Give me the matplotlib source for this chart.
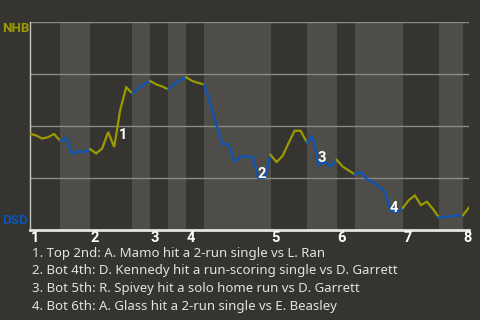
import matplotlib
matplotlib.use("Agg")  # 无头环境
import matplotlib.pyplot as plt
from matplotlib import transforms

# NHB win probability after each plate appearance (index 0 = first pitch)
wp = [
    0.463, 0.455, 0.440, 0.446, 0.462, 0.428,                # top 1
    0.442, 0.368, 0.377, 0.375, 0.389,                       # bot 1
    0.368, 0.392, 0.471, 0.399, 0.577, 0.686, 0.657,         # top 2
    0.680, 0.702, 0.716,                                     # bot 2
    0.700, 0.690, 0.676,                                     # top 3
    0.702, 0.721, 0.734,                                     # bot 3
    0.716, 0.707, 0.699,                                     # top 4
    0.601, 0.505, 0.413, 0.413, 0.327, 0.353, 0.353, 0.353,  # bot 4
    0.249, 0.249, 0.361,
    0.327, 0.356, 0.418, 0.477, 0.477, 0.423,                # top 5
    0.450, 0.313, 0.329, 0.305, 0.337,                       # bot 5
    0.305, 0.286, 0.267,                                     # top 6
    0.279, 0.244, 0.232, 0.208, 0.185, 0.091, 0.087, 0.106,  # bot 6
    0.144, 0.166, 0.120, 0.136, 0.101, 0.061,                # top 7
    0.063, 0.067, 0.069, 0.071,                              # bot 7
    0.108,                                                   # top 8
]
top_starts = [0, 10, 20, 26, 40, 51, 62, 72]
bot_starts = [5, 17, 23, 29, 46, 54, 68]
inning_labels = ["1", "2", "3", "4", "5", "6", "7", "8"]
away_team = "NHB"
home_team = "DSD"

# 关键事件：事件结束时的打席序号 + 说明
event_idx = [15, 38, 48, 60]
event_notes = [
    "Top 2nd: A. Mamo hit a 2-run single vs L. Ran",
    "Bot 4th: D. Kennedy hit a run-scoring single vs D. Garrett",
    "Bot 5th: R. Spivey hit a solo home run vs D. Garrett",
    "Bot 6th: A. Glass hit a 2-run single vs E. Beasley",
]

BG = "#363430"
BAND = "#4f4d4a"
AWAY_C = "#9c9a00"
HOME_C = "#0a55b5"
FONT = ["Noto Sans", "DejaVu Sans"]
BOLD = ["Roboto", "DejaVu Sans"]

fig = plt.figure(figsize=(4.8, 3.2), dpi=100, facecolor=BG)
ax = fig.add_axes([30 / 480, 1 - 230 / 320, 439 / 480, 208 / 320])
ax.set_facecolor(BG)

last = len(wp) - 1
ax.set_xlim(0, last)
ax.set_ylim(0, 1)

# 下半局底色
for b in bot_starts:
    nxt = min([t for t in top_starts if t > b] + [last])
    ax.axvspan(b, nxt, color=BAND, lw=0, zorder=0)

for g in (0.25, 0.5, 0.75, 1.0):
    ax.axhline(g, color="#8c8a86", lw=1, zorder=1)

# 按半局分段上色
bounds = sorted(top_starts + bot_starts) + [last]
for i in range(len(bounds) - 1):
    s, e = bounds[i], bounds[i + 1]
    c = AWAY_C if s in top_starts else HOME_C
    ax.plot(range(s, e + 1), wp[s:e + 1], color=c, lw=1.6,
            solid_joinstyle="miter", zorder=3)

for n, k in enumerate(event_idx, 1):
    ax.annotate(str(n), ((k - 0.5), (wp[k - 1] + wp[k]) / 2),
                xytext=(6, -7), textcoords="offset pixels",
                ha="center", va="center", color="white",
                fontsize=10.5, fontweight="bold", family=BOLD, zorder=4)

for s in ("top", "right"):
    ax.spines[s].set_visible(False)
ax.spines["left"].set_color("#c8c6c2")
ax.spines["left"].set_linewidth(1)
ax.spines["bottom"].set_color("#e6e4e0")
ax.spines["bottom"].set_linewidth(2)
ax.set_yticks([])
ax.set_xticks([])

tr = transforms.blended_transform_factory(ax.transData, ax.transAxes)
for t, lab in zip(top_starts, inning_labels):
    ax.text(t + 0.1, -0.04, lab, transform=tr, ha="left", va="center",
            color="white", fontsize=10.5, fontweight="bold", family=BOLD)

fig.text(2 / 480, 1 - 29 / 320, away_team, color=AWAY_C, fontsize=9.5,
         fontweight="bold", family=BOLD, va="center", ha="left")
fig.text(2 / 480, 1 - 221 / 320, home_team, color=HOME_C, fontsize=9.5,
         fontweight="bold", family=BOLD, va="center", ha="left")

for n, note in enumerate(event_notes, 1):
    fig.text(32 / 480, 1 - (253 + (n - 1) * 17.8) / 320, f"{n}. {note}",
             color="#e4e2de", fontsize=9.5, family=FONT, va="center", ha="left")

fig.savefig("out.png", dpi=100, facecolor=BG)
